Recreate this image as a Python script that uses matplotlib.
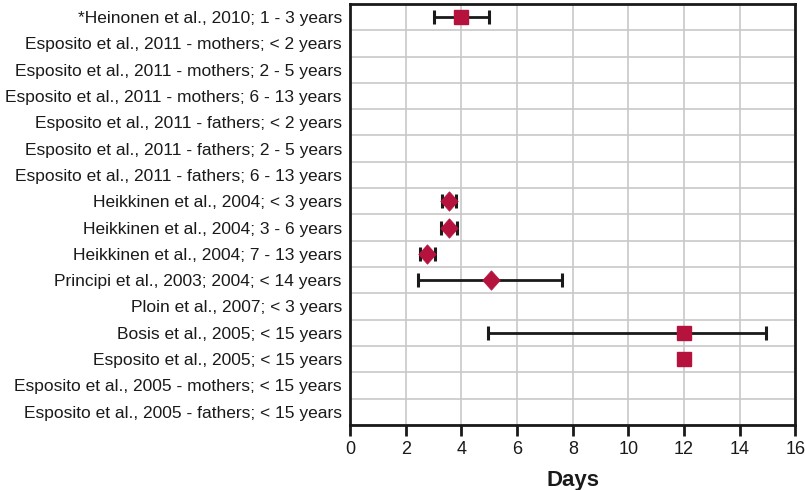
import numpy as np
import matplotlib
matplotlib.use("Agg")
import matplotlib.pyplot as plt

plt.rcParams['font.family'] = ['Liberation Sans Narrow', 'Liberation Sans', 'DejaVu Sans']

labels = [
    "*Heinonen et al., 2010; 1 - 3 years",
    "Esposito et al., 2011 - mothers; < 2 years",
    "Esposito et al., 2011 - mothers; 2 - 5 years",
    "Esposito et al., 2011 - mothers; 6 - 13 years",
    "Esposito et al., 2011 - fathers; < 2 years",
    "Esposito et al., 2011 - fathers; 2 - 5 years",
    "Esposito et al., 2011 - fathers; 6 - 13 years",
    "Heikkinen et al., 2004; < 3 years",
    "Heikkinen et al., 2004; 3 - 6 years",
    "Heikkinen et al., 2004; 7 - 13 years",
    "Principi et al., 2003; 2004; < 14 years",
    "Ploin et al., 2007; < 3 years",
    "Bosis et al., 2005; < 15 years",
    "Esposito et al., 2005; < 15 years",
    "Esposito et al., 2005 - mothers; < 15 years",
    "Esposito et al., 2005 - fathers; < 15 years",
]

# row index, mean days, lower, upper, marker kind
rows  = [0, 7, 8, 9, 10, 12, 13]
means = [4.0, 3.55, 3.55, 2.75, 5.05, 12.0, 12.0]
lows  = [3.0, 3.3, 3.25, 2.5, 2.45, 4.95, 12.0]
highs = [5.0, 3.8, 3.85, 3.05, 7.6, 14.95, 12.0]
kinds = ["s", "d", "d", "d", "d", "s", "s"]

color = "#B5123E"
diamond = [(0, 1), (0.9, 0), (0, -1), (-0.9, 0), (0, 1)]

fig = plt.figure(figsize=(8.05, 4.9), dpi=100)
ax = fig.add_axes([0.435, 0.133, 0.553, 0.859])

n = len(labels)
for row, mean, lo, hi, mk in zip(rows, means, lows, highs, kinds):
    if hi > lo:
        ax.errorbar(mean, row, xerr=[[mean - lo], [hi - mean]], fmt="none",
                    ecolor="#1a1a1a", elinewidth=2, capsize=5, capthick=2.2, zorder=3)
    if mk == "s":
        ax.plot(mean, row, marker="s", color=color, markersize=10.5,
                markeredgecolor=color, linestyle="none", zorder=4)
    else:
        ax.plot(mean, row, marker=diamond, color=color, markersize=14,
                markeredgecolor=color, markeredgewidth=0.5, linestyle="none", zorder=4)

ax.set_xlim(0, 16)
ax.set_ylim(n - 0.5, -0.5)
ax.set_xticks(np.arange(0, 17, 2))
ax.set_yticks(np.arange(n))
ax.set_yticklabels(labels, fontsize=12.5, color="#1a1a1a")
ax.set_yticks(np.arange(n + 1) - 0.5, minor=True)
ax.grid(True, axis="x", color="#c8c8c8", linewidth=1.2)
ax.grid(True, axis="y", which="minor", color="#c8c8c8", linewidth=1.2)
ax.set_axisbelow(True)
ax.tick_params(axis="y", which="both", length=0, pad=6)
ax.tick_params(axis="x", length=8, width=2, direction="out", labelsize=13, pad=4,
               color="#1a1a1a", labelcolor="#1a1a1a")
for s in ax.spines.values():
    s.set_linewidth(2)
    s.set_color("#1a1a1a")
ax.set_xlabel("Days", fontsize=16, fontweight="bold", labelpad=8, color="#1a1a1a")

fig.savefig("out.png", dpi=100)
